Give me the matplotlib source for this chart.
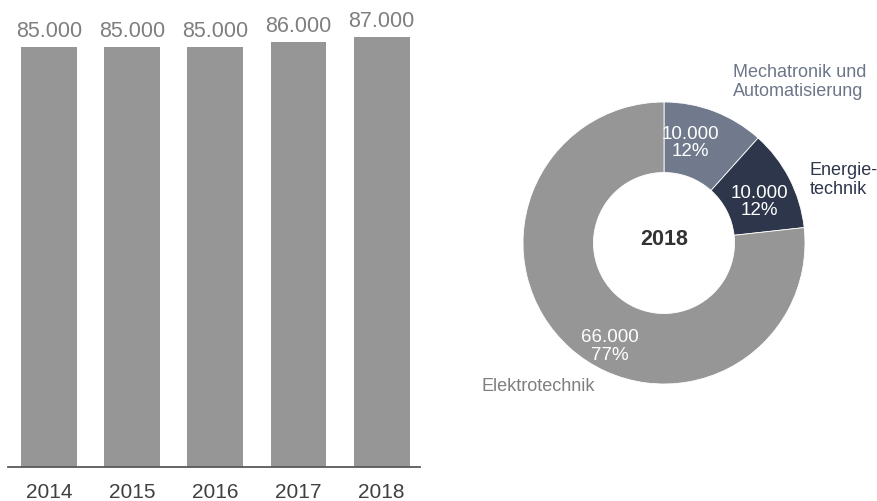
import numpy as np
import matplotlib.pyplot as plt

plt.rcParams['font.family'] = ['Liberation Sans', 'DejaVu Sans']

# Absolventen pro Jahr
years = ["2014", "2015", "2016", "2017", "2018"]
totals = [85000, 85000, 85000, 86000, 87000]

# Aufteilung 2018 nach Fachrichtung
segments = ["Mechatronik und\nAutomatisierung", "Energie-\ntechnik", "Elektrotechnik"]
segment_values = [10000, 10000, 66000]
segment_colors = ["#707a8c", "#2e364b", "#969696"]
label_colors = ["#6d7689", "#2e364b", "#7f7f7f"]


def fmt(v):
    return f"{v:,}".replace(",", ".")


W, H = 877, 502
fig = plt.figure(figsize=(W / 100, H / 100), dpi=100)

# --- Balken ---
ax = fig.add_axes([8 / W, (H - 468) / H, 412 / W, (468 - 38) / H])
x = np.arange(len(years))
bars = ax.bar(x, totals, width=0.67, color="#969696")
ax.set_xlim(-0.49, 4.46)
ax.set_ylim(0, max(totals))
for b, v in zip(bars, totals):
    ax.annotate(fmt(v), (b.get_x() + b.get_width() / 2, v), xytext=(0, 4),
                textcoords="offset points", ha="center", va="bottom",
                fontsize=15.5, color="#7f7f7f", clip_on=False)
ax.set_xticks(x)
ax.set_xticklabels(years, fontsize=15, color="#404040")
ax.tick_params(axis="x", length=0, pad=11)
ax.set_yticks([])
for s in ["top", "right", "left"]:
    ax.spines[s].set_visible(False)
ax.spines["bottom"].set_color("#595959")
ax.spines["bottom"].set_linewidth(1.3)

# --- Ring ---
cx, cy, r = 664, 244, 141
pax = fig.add_axes([(cx - r) / W, (H - cy - r) / H, 2 * r / W, 2 * r / H])
wedges, _ = pax.pie(segment_values, colors=segment_colors, startangle=90,
                    counterclock=False, radius=1,
                    wedgeprops=dict(width=0.5, edgecolor="white", linewidth=0.6))
pax.set_xlim(-1, 1)
pax.set_ylim(-1, 1)
pax.set_aspect("equal")
pax.axis("off")

total = sum(segment_values)
angle_shift = [6.5, -3.4, 14]
label_r = [0.74, 0.74, 0.82]
for w, v, da, lr in zip(wedges, segment_values, angle_shift, label_r):
    ang = np.deg2rad((w.theta1 + w.theta2) / 2 + da)
    pax.text(lr * np.cos(ang), lr * np.sin(ang), f"{fmt(v)}\n{round(100 * v / total)}%",
             ha="center", va="center", fontsize=13.5, color="white", linespacing=1.05)

pax.text(0, 0.03, "2018", ha="center", va="center", fontsize=15.5,
         fontweight="bold", color="#333333")

outer_pos = [(0.489, 1.149), (1.035, 0.454), (-1.291, -1.014)]
for name, (tx, ty), c in zip(segments, outer_pos, label_colors):
    pax.text(tx, ty, name, ha="left", va="center", fontsize=13, color=c,
             linespacing=1.1, clip_on=False)

fig.savefig("out.png", dpi=100)
